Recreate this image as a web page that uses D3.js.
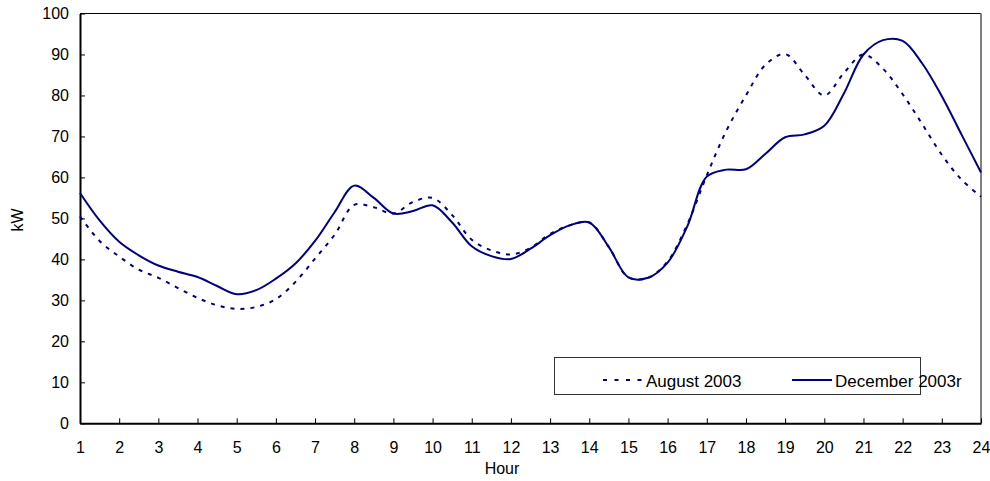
<!DOCTYPE html>
<html>
<head>
<meta charset="utf-8">
<script src="https://cdn.jsdelivr.net/npm/d3@7"></script>
<style>
  html, body { margin: 0; padding: 0; background: #fff; }
  svg { display: block; font-family: "Liberation Sans", Arial, sans-serif; }
</style>
</head>
<body>
<svg id="chart" width="990" height="481"></svg>
<script>
// Half-hourly readings (hour 1 .. 24)
const hours = [1,1.5,2,2.5,3,3.5,4,4.5,5,5.5,6,6.5,7,7.5,8,8.5,9,9.5,10,10.5,11,11.5,12,12.5,13,13.5,14,14.5,15,15.5,16,16.5,17,17.5,18,18.5,19,19.5,20,20.5,21,21.5,22,22.5,23,23.5,24];
const august2003 = [50.5,44.5,40.7,37.5,35.5,33,30.6,28.8,27.9,28.4,30.3,34.5,40.2,46,53.3,52.7,51.2,54,55,50.8,44.8,42.2,41.2,42.8,46.2,48.3,49,43,35.6,35.5,39.5,48.5,60.5,71.4,80,87.5,90.1,85,80,85.5,90,86.5,80.3,73,65.5,59.5,55.3];
const december2003 = [56.2,49.5,44.3,41,38.5,37,35.7,33.5,31.5,32.5,35.3,39,44.5,51.5,58,55,51.2,51.8,53.2,49,43.2,40.8,40.1,42.6,45.9,48.3,49,43,35.6,35.5,39.2,48,60.2,61.9,62,65.8,69.8,70.5,72.6,80.5,90,93.5,93.3,87.8,79.8,70.5,61.2];
const xTicks = d3.range(1, 25);
const yTicks = d3.range(0, 101, 10);
const seriesNames = ["August 2003", "December 2003r"];

(function () {
const svg = d3.select("#chart");
const pLeft = 80, pRight = 981, pTop = 13.5, pBottom = 423.3;
const x = d3.scaleLinear().domain([1, 24]).range([pLeft, pRight]);
const y = d3.scaleLinear().domain([0, 100]).range([pBottom, pTop]);
const navy = "#000080";
const font = "'Liberation Sans', Arial, sans-serif";

// Plot frame: top black, right grey
svg.append("line").attr("x1", pLeft).attr("x2", pRight).attr("y1", pTop).attr("y2", pTop)
  .attr("stroke", "#000").attr("stroke-width", 1);
svg.append("line").attr("x1", pRight).attr("x2", pRight).attr("y1", pTop).attr("y2", pBottom)
  .attr("stroke", "#808080").attr("stroke-width", 2);

// Axes
const yAxis = d3.axisLeft(y).tickValues(yTicks).tickSizeInner(-5).tickSizeOuter(0).tickPadding(11);
const gy = svg.append("g").attr("transform", `translate(${pLeft},0)`).call(yAxis);
const xAxis = d3.axisBottom(x).tickValues(xTicks).tickSizeInner(-5).tickSizeOuter(0).tickPadding(18);
const gx = svg.append("g").attr("transform", `translate(0,${pBottom})`).call(xAxis);
[gy, gx].forEach(g => {
  g.select(".domain").attr("stroke", "#000").attr("stroke-width", 2);
  g.selectAll(".tick line").attr("stroke", "#000").attr("stroke-width", 1);
  g.selectAll(".tick text").attr("fill", "#000").attr("font-size", 16).attr("font-family", font);
});

// Axis titles
svg.append("text").attr("x", 502).attr("y", 474).attr("text-anchor", "middle")
  .attr("font-size", 16).text("Hour");
svg.append("text").attr("transform", "translate(23,220) rotate(-90)").attr("text-anchor", "middle")
  .attr("font-size", 16).text("kW");

// Lines
const line = vals => d3.line()
  .x((d, i) => x(hours[i]))
  .y(d => y(d))
  .curve(d3.curveCatmullRom.alpha(0.5))(vals);

svg.append("path").attr("d", line(august2003)).attr("fill", "none")
  .attr("stroke", navy).attr("stroke-width", 2).attr("stroke-dasharray", "4,6");
svg.append("path").attr("d", line(december2003)).attr("fill", "none")
  .attr("stroke", navy).attr("stroke-width", 2);

// Legend
const lg = svg.append("g");
lg.append("rect").attr("x", 554.5).attr("y", 357.5).attr("width", 366).attr("height", 37)
  .attr("fill", "#fff").attr("stroke", "#333").attr("stroke-width", 1);
lg.append("line").attr("x1", 603).attr("x2", 643).attr("y1", 380).attr("y2", 380)
  .attr("stroke", navy).attr("stroke-width", 2).attr("stroke-dasharray", "4,7.5");
lg.append("text").attr("x", 646).attr("y", 387).attr("font-size", 17).text(seriesNames[0]);
lg.append("line").attr("x1", 792).attr("x2", 832).attr("y1", 380).attr("y2", 380)
  .attr("stroke", navy).attr("stroke-width", 2);
lg.append("text").attr("x", 835).attr("y", 387).attr("font-size", 17).text(seriesNames[1]);
})();
</script>
</body>
</html>
